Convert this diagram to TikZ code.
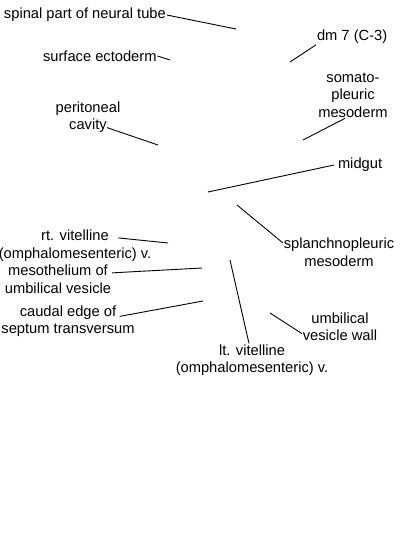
\documentclass[tikz,border=0pt]{standalone}
\usepackage{fontspec}
\setmainfont{Liberation Sans}
\usepackage{tikz}
\usetikzlibrary{positioning}

\begin{document}
\begin{tikzpicture}[
    x=1pt, y=-1pt,
    every node/.style={inner sep=0pt, outer sep=1pt, align=center, font=\fontsize{14.7}{17.5}\selectfont},
    leader/.style={line width=0.9pt, color=black}
]
\useasboundingbox (0,0) rectangle (400,550);

% Labels
\node[anchor=west] (neural) at (3,15) {spinal part of neural tube};
\node[anchor=west] (ectoderm) at (42,56) {surface ectoderm};
\node[anchor=west] (dm7) at (316,37) {dm 7 (C-3)};
\node (somato) at (353,95) {somato-\\pleuric\\mesoderm};
\node (peritoneal) at (88,117) {peritoneal\\cavity};
\node[anchor=west] (midgut) at (337,165) {midgut};
\node (splanchno) at (339,252) {splanchnopleuric\\mesoderm};
\node (rtvit) at (75,245.5) {rt. vitelline\\(omphalomesenteric) v.};
\node (meso) at (58,279) {mesothelium of\\umbilical vesicle};
\node (caudal) at (68,321) {caudal edge of\\septum transversum};
\node (ltvit) at (252,360) {lt. vitelline\\(omphalomesenteric) v.};
\node (wall) at (340,326.5) {umbilical\\vesicle wall};

% Free ends
\coordinate (neural_pt) at (236,29);
\coordinate (ectoderm_pt) at (170,60);
\coordinate (dm7_pt) at (290,62);
\coordinate (somato_pt) at (303,140);
\coordinate (peritoneal_pt) at (158,145);
\coordinate (midgut_pt) at (208,192);
\coordinate (splanchno_pt) at (237,205);
\coordinate (rtvit_pt) at (168,243);
\coordinate (meso_pt) at (202,268);
\coordinate (caudal_pt) at (203,301);
\coordinate (ltvit_pt) at (230,260);
\coordinate (wall_pt) at (270,313);

% Leader lines
\draw[leader] (neural.east) -- (neural_pt);
\draw[leader] (ectoderm.east) -- (ectoderm_pt);
\draw[leader] (dm7.south west) -- (dm7_pt);
\draw[leader] ([xshift=-8pt]somato.south) -- (somato_pt);
\draw[leader] ([xshift=19pt,yshift=6pt]peritoneal.south) -- (peritoneal_pt);
\draw[leader] ([xshift=-3pt]midgut.west) -- (midgut_pt);
\draw[leader] ([yshift=-6pt]splanchno.north west) -- (splanchno_pt);
\draw[leader] ([xshift=-34pt,yshift=-9pt]rtvit.north east) -- (rtvit_pt);
\draw[leader] ([yshift=-9pt]meso.north east) -- (meso_pt);
\draw[leader] ([xshift=-16pt,yshift=-12pt]caudal.north east) -- (caudal_pt);
\draw[leader] ([xshift=-3pt]ltvit.north) -- (ltvit_pt);
\draw[leader] ([yshift=-7pt]wall.west) -- (wall_pt);

\end{tikzpicture}
\end{document}
